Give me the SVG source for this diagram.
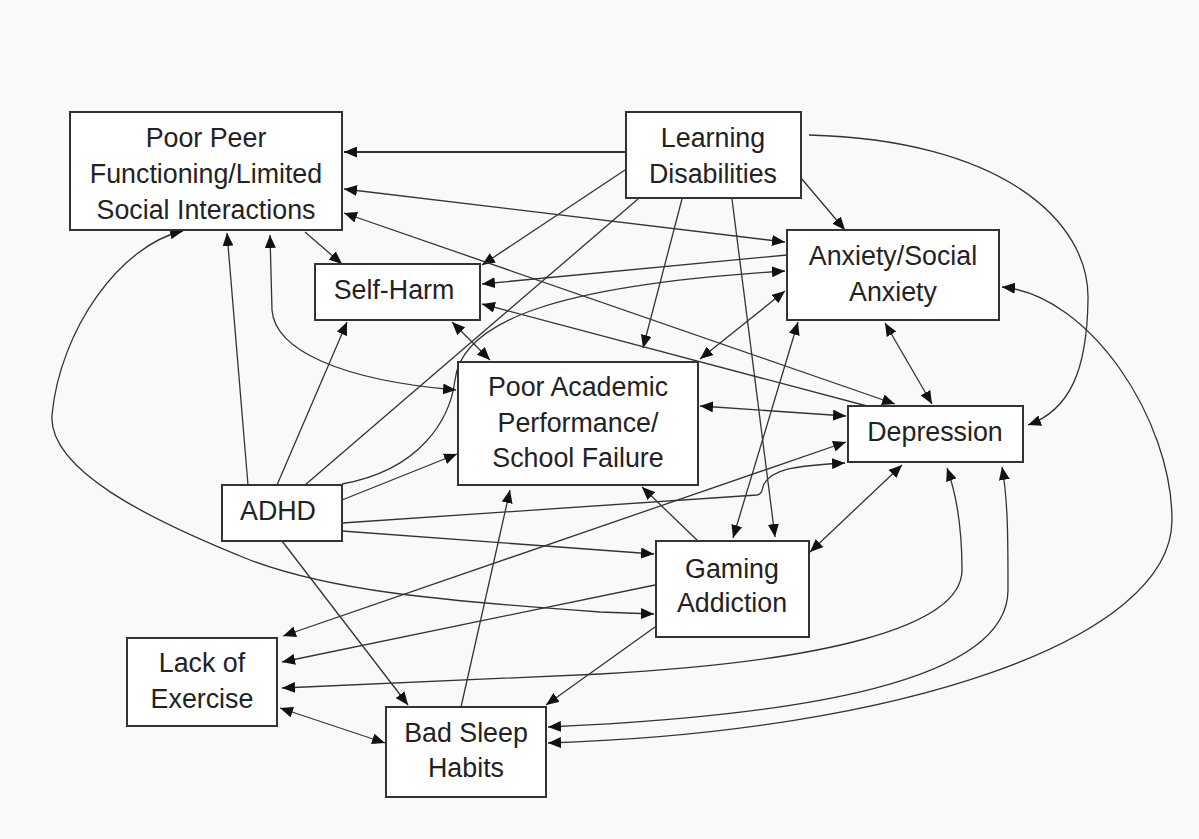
<svg xmlns="http://www.w3.org/2000/svg" width="1199" height="839" viewBox="0 0 1199 839">
<defs>
<marker id="ah" viewBox="0 0 13 11" refX="13" refY="5.5" markerWidth="13" markerHeight="11" orient="auto-start-reverse" markerUnits="userSpaceOnUse"><path d="M0,0 L13,5.5 L0,11 z" fill="#111"/></marker>
<style>
.box{fill:#fff;stroke:#333;stroke-width:2}
.t{font-family:"Liberation Sans",Arial,sans-serif;font-size:26.8px;fill:#222;text-anchor:middle}
.e{fill:none;stroke:#333;stroke-width:1.3}
.a{marker-end:url(#ah)}
.d{marker-start:url(#ah);marker-end:url(#ah)}
</style>
</defs>
<rect width="1199" height="839" fill="#f9f9f9"/>
<g id="connectors">
<path class="e a" d="M626,152 L344,152" style="stroke-width:2.2"/>
<path class="e a" d="M625,170 L482,265"/>
<path class="e a" d="M682,199 L643,348"/>
<path class="e a" d="M732,199 L775,537"/>
<path class="e a" d="M801,178 L845,230"/>
<path class="e a" d="M809,135 C1000,140 1090,220 1088,300 C1087,370 1070,410 1028,425"/>
<path class="e" d="M305,485 L638,199"/>
<path class="e a" d="M248,485 L227,233"/>
<path class="e a" d="M277,485 L347,322"/>
<path class="e a" d="M342,500 L457,454"/>
<path class="e a" d="M342,531 L654,554"/>
<path class="e a" d="M282,541 L408,705"/>
<path class="e a" d="M342,484 C420,470 450,420 455,380 C462,320 560,285 785,271"/>
<path class="e a" d="M342,523 L757,495 C763,494 762,488 764,484 C772,470 790,466 845,463"/>
<path class="e d" d="M344,189 L785,242"/>
<path class="e a" d="M787,255 L482,284"/>
<path class="e d" d="M785,291 L700,359"/>
<path class="e d" d="M798,322 L733,538"/>
<path class="e d" d="M885,323 L932,404"/>
<path class="e d" d="M1002,287 C1090,295 1172,420 1172,520 C1172,640 900,732 548,743"/>
<path class="e d" d="M452,322 L490,360"/>
<path class="e a" d="M867,406 L482,304"/>
<path class="e a" d="M305,232 L342,264"/>
<path class="e d" d="M344,213 L895,404"/>
<path class="e d" d="M700,406 L846,416"/>
<path class="e d" d="M270,235 L272,310 C275,350 340,380 456,390"/>
<path class="e d" d="M183,231 C120,245 60,330 52,415 C48,470 150,520 250,560 C330,590 430,600 600,612 L654,614"/>
<path class="e a" d="M698,541 L642,487"/>
<path class="e d" d="M810,552 L902,465"/>
<path class="e a" d="M655,585 L282,662"/>
<path class="e a" d="M655,627 L546,705"/>
<path class="e d" d="M947,468 Q962,510 962,570 C962,628 820,662 600,674 L282,688"/>
<path class="e d" d="M1002,467 C1008,500 1008,540 1008,590 C1008,682 800,716 548,727"/>
<path class="e d" d="M283,636 L846,442"/>
<path class="e d" d="M280,708 L385,743"/>
<path class="e a" d="M461,707 L510,490"/>
</g>
<g id="poor-peer"><rect class="box" x="70" y="112" width="272" height="118"/><text class="t" x="206" y="147">Poor Peer</text><text class="t" x="206" y="183">Functioning/Limited</text><text class="t" x="206" y="219">Social Interactions</text></g>
<g id="learning-disabilities"><rect class="box" x="626" y="112" width="175" height="86"/><text class="t" x="713" y="147">Learning</text><text class="t" x="713" y="183">Disabilities</text></g>
<g id="self-harm"><rect class="box" x="315" y="264" width="165" height="56"/><text class="t" x="394" y="299">Self-Harm</text></g>
<g id="anxiety"><rect class="box" x="787" y="230" width="212" height="90"/><text class="t" x="893" y="265">Anxiety/Social</text><text class="t" x="893" y="301">Anxiety</text></g>
<g id="poor-academic"><rect class="box" x="458" y="362" width="240" height="123"/><text class="t" x="578" y="396">Poor Academic</text><text class="t" x="578" y="432">Performance/</text><text class="t" x="578" y="467">School Failure</text></g>
<g id="depression"><rect class="box" x="848" y="406" width="175" height="56"/><text class="t" x="935" y="441">Depression</text></g>
<g id="adhd"><rect class="box" x="222" y="485" width="120" height="56"/><text class="t" x="278" y="520">ADHD</text></g>
<g id="gaming"><rect class="box" x="656" y="541" width="153" height="96"/><text class="t" x="732" y="578">Gaming</text><text class="t" x="732" y="612">Addiction</text></g>
<g id="lack-of-exercise"><rect class="box" x="127" y="638" width="150" height="88"/><text class="t" x="202" y="672">Lack of</text><text class="t" x="202" y="708">Exercise</text></g>
<g id="bad-sleep"><rect class="box" x="386" y="707" width="160" height="90"/><text class="t" x="466" y="742">Bad Sleep</text><text class="t" x="466" y="777">Habits</text></g>
</svg>
